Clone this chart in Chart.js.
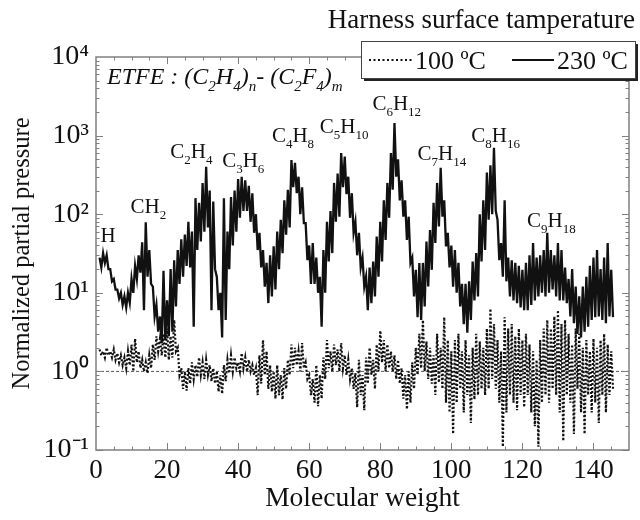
<!DOCTYPE html>
<html>
<head>
<meta charset="utf-8">
<script src="https://cdn.jsdelivr.net/npm/chart.js@4.4.1/dist/chart.umd.min.js"></script>
<style>
  html, body { margin: 0; padding: 0; background: #fff; }
  #wrap { width: 640px; height: 520px; }
</style>
</head>
<body>
<div id="wrap"><canvas id="spectrum" width="640" height="520"></canvas></div>
<script>
// integer masses start at 1; each mass has a band top and a band bottom
const FIRST_MASS = 1;

const peak230 = [
  28, 32, 30, 20, 15, 11, 10, 9, 10, 15,
  22, 30, 44, 79, 35, 12, 7, 5, 19, 8,
  20, 26, 35, 48, 55, 80, 60, 160, 140, 250,
  400, 200, 145, 16, 10, 160, 60, 165, 200, 280,
  300, 270, 230, 185, 100, 58, 35, 24, 30, 39,
  60, 85, 150, 205, 490, 450, 300, 220, 77, 40,
  43, 28, 16, 35, 80, 110, 250, 330, 600, 540,
  300, 185, 80, 58, 28, 16, 21, 25, 52, 80,
  150, 250, 600, 1450, 500, 270, 150, 93, 28, 19.6,
  24, 24, 45, 63, 140, 250, 390, 150, 58, 40,
  35, 24, 13, 13, 14, 25, 32, 100, 150, 340,
  420, 700, 85, 43, 150, 28, 26, 24, 22, 19.6,
  24, 30, 43, 28, 30, 35, 58, 35, 30, 43,
  35, 21, 15, 20, 12, 9, 12, 16, 22, 28,
  35, 20, 28, 43, 19.6
];
const valley230 = [
  21, 24, 20, 14, 11, 8.5, 7, 6.5, 7.5, 10,
  15, 18, 6, 16, 13, 5, 3.2, 2.3, 2.5, 2.8,
  3.2, 6.7, 13, 16, 22, 21, 3.7, 35, 45, 60,
  68, 6, 20, 6, 2.7, 4.5, 20, 40, 60, 90,
  110, 110, 80, 58, 35, 21, 12, 7.4, 9, 11,
  20, 32, 55, 68, 220, 185, 100, 77, 26, 13,
  13, 10, 3.7, 10, 25, 32, 80, 93, 220, 180,
  90, 58, 30, 21, 12, 6, 7.4, 9, 16, 25,
  47, 90, 205, 300, 150, 93, 47, 24, 9, 4.9,
  4.5, 6.7, 12, 19.6, 43, 70, 93, 39, 21, 12,
  10, 6.7, 4, 3.1, 4.5, 8, 9, 25, 35, 85,
  100, 110, 26, 16, 14, 9, 8, 7.4, 6.5, 6,
  6, 7, 8, 9, 10, 9, 10, 11, 9, 8,
  8, 7.4, 5, 4.1, 3, 2.7, 3.2, 3.7, 4.5, 4.9,
  5, 4.5, 4.1, 5, 4.9
];
const peak100 = [
  1.9, 1.8, 2.0, 1.8, 1.9, 1.7, 1.6, 1.5, 1.8, 2.2,
  2.6, 1.8, 1.4, 1.3, 1.6, 2.2, 2.8, 2.6, 3.0, 3.5,
  2.8, 4.5, 2.0, 1.1, 1.0, 1.1, 1.3, 1.2, 1.5, 1.3,
  1.4, 1.2, 1.1, 1.0, 0.9, 1.2, 1.4, 1.6, 1.5, 1.3,
  1.7, 1.5, 1.4, 1.2, 1.1, 1.6, 2.5, 1.8, 1.2, 1.0,
  1.2, 0.9, 1.1, 1.4, 2.2, 2.0, 1.8, 2.3, 1.3, 0.9,
  0.8, 1.2, 0.9, 1.5, 2.5, 1.8, 2.2, 1.9, 2.3, 1.6,
  1.4, 1.1, 0.95, 1.4, 0.9, 1.5, 2.0, 1.4, 2.2, 3.3,
  2.5, 2.2, 1.8, 1.6, 1.4, 1.1, 0.9, 1.0, 1.3, 2.0,
  3.0, 4.5, 2.4, 2.0, 1.6, 3.0, 2.0, 4.9, 2.5, 1.8,
  2.5, 3.0, 1.8, 2.5, 1.6, 2.0, 3.0, 2.4, 2.0, 3.5,
  6.3, 4.0, 2.5, 1.8, 4.9, 3.5, 4.0, 2.8, 3.5, 2.5,
  3.0, 2.2, 1.8, 1.4, 2.5, 3.5, 4.5, 3.5, 5.0, 6.0,
  4.0, 4.5, 3.0, 2.2, 3.5, 3.0, 2.0, 2.5, 1.8, 2.6,
  2.0, 2.5, 3.0, 2.2, 1.8
];
const valley100 = [
  1.6, 1.5, 1.6, 1.5, 1.4, 1.3, 1.2, 1.1, 1.2, 1.0,
  1.3, 1.1, 1.0, 0.95, 1.1, 1.4, 1.8, 1.6, 1.5, 1.4,
  1.5, 1.8, 0.9, 0.6, 0.57, 0.7, 0.8, 0.85, 0.9, 0.8,
  0.9, 0.75, 0.7, 0.55, 0.52, 0.75, 0.95, 1.0, 1.1, 1.0,
  1.1, 1.0, 1.0, 0.9, 0.5, 0.7, 0.9, 0.6, 0.55, 0.45,
  0.5, 0.44, 0.6, 0.9, 1.1, 1.2, 1.0, 1.1, 0.8, 0.5,
  0.4, 0.36, 0.45, 0.8, 1.1, 1.0, 1.2, 1.0, 1.1, 0.9,
  0.8, 0.6, 0.35, 0.5, 0.32, 0.7, 0.9, 0.6, 1.0, 1.3,
  1.0, 1.1, 1.0, 0.8, 0.7, 0.45, 0.33, 0.4, 0.6, 0.9,
  1.1, 1.0, 0.8, 0.7, 0.5, 0.72, 0.6, 0.4, 0.3, 0.16,
  0.4, 0.6, 0.3, 0.5, 0.22, 0.44, 0.5, 0.6, 0.5, 0.6,
  0.8, 0.6, 0.4, 0.11, 0.3, 0.5, 0.4, 0.32, 0.5, 0.35,
  0.5, 0.3, 0.2, 0.11, 0.4, 0.5, 0.4, 0.6, 0.5, 0.3,
  0.13, 0.5, 0.4, 0.16, 0.6, 0.3, 0.16, 0.5, 0.3, 0.4,
  0.22, 0.5, 0.3, 0.5, 0.6
];
const referenceLevel = [1, 1];
const referenceMass = [0, 150];
const xTickValues = [0, 20, 40, 60, 80, 100, 120, 140];
const yTickValues = [0.1, 1, 10, 100, 1000, 10000];

const seriesNames = ['100 \u00baC', '230 \u00baC'];
const legendTitle = 'Harness surface tamperature';
const compositionNote = 'ETFE : (C_{2}H_{4})_{n}- (C_{2}F_{4})_{m}';
// fragment labels: text, mass of left edge, level of baseline
const fragmentLabels = [
  ['H', 1.3, 44],
  ['CH_{2}', 9.7, 104],
  ['C_{2}H_{4}', 20.9, 519],
  ['C_{3}H_{6}', 35.5, 398],
  ['C_{4}H_{8}', 49.5, 829],
  ['C_{5}H_{10}', 63, 1079],
  ['C_{6}H_{12}', 77.8, 2118],
  ['C_{7}H_{14}', 90.5, 490],
  ['C_{8}H_{16}', 105.6, 829],
  ['C_{9}H_{18}', 121.3, 68.7]
];

const SERIF = '"Liberation Serif", "Times New Roman", serif';
const SUP = { '-': '\u207B', '0': '\u2070', '1': '\u00B9', '2': '\u00B2', '3': '\u00B3', '4': '\u2074' };

function zigzag(peaks, valleys) {
  const pts = [];
  peaks.forEach((p, i) => {
    const m = FIRST_MASS + i;
    pts.push({ x: m, y: p });
    pts.push({ x: m + 0.5, y: valleys[i] });
  });
  return pts;
}

function drawRich(ctx, text, x, y, size, italic) {
  const re = /_\{([^}]*)\}|([^_]+)/g;
  let cx = x, mt;
  while ((mt = re.exec(text))) {
    const sub = mt[1] !== undefined;
    const t = sub ? mt[1] : mt[2];
    const fs = sub ? Math.round(size * 0.64) : size;
    ctx.font = (italic ? 'italic ' : '') + fs + 'px ' + SERIF;
    ctx.fillText(t, cx, sub ? y + size * 0.3 : y);
    cx += ctx.measureText(t).width;
  }
}

const decorations = {
  id: 'decorations',
  afterDatasetsDraw(chart) {
    const { ctx, chartArea: a, scales: { x, y } } = chart;
    ctx.save();
    // frame with inward ticks
    ctx.strokeStyle = '#808080';
    ctx.lineWidth = 1.5;
    ctx.strokeRect(a.left, a.top, a.right - a.left, a.bottom - a.top);
    ctx.lineWidth = 1;
    ctx.beginPath();
    for (let v = 5; v < 150; v += 5) {
      const px = Math.round(x.getPixelForValue(v)) + 0.5;
      const len = v % 20 === 0 ? 7 : 3.5;
      ctx.moveTo(px, a.bottom); ctx.lineTo(px, a.bottom - len);
      ctx.moveTo(px, a.top); ctx.lineTo(px, a.top + len);
    }
    for (let d = -1; d < 4; d++) {
      for (let k = 1; k <= 9; k++) {
        const py = Math.round(y.getPixelForValue(k * Math.pow(10, d))) + 0.5;
        const len = k === 1 ? 7 : 3.5;
        ctx.moveTo(a.left, py); ctx.lineTo(a.left + len, py);
        ctx.moveTo(a.right, py); ctx.lineTo(a.right - len, py);
      }
    }
    ctx.stroke();

    // annotations
    ctx.fillStyle = '#111';
    ctx.textBaseline = 'alphabetic';
    ctx.textAlign = 'left';
    drawRich(ctx, compositionNote, a.left + 11, a.top + 27, 24, true);
    fragmentLabels.forEach(([t, m, v]) => {
      drawRich(ctx, t, x.getPixelForValue(m), y.getPixelForValue(v), 21, false);
    });
    ctx.restore();
  },
  afterDraw(chart) {
    const { ctx, width } = chart;
    ctx.save();
    // legend title
    ctx.fillStyle = '#111';
    ctx.font = '27px ' + SERIF;
    ctx.textAlign = 'right';
    ctx.fillText(legendTitle, width - 5, 28);
    // legend box with shadow
    const bx = 361, by = 41, bw = 274, bh = 37;
    ctx.fillStyle = '#222';
    ctx.fillRect(bx + 3, by + 3, bw, bh);
    ctx.fillStyle = '#fff';
    ctx.fillRect(bx, by, bw, bh);
    ctx.strokeStyle = '#444';
    ctx.lineWidth = 1;
    ctx.strokeRect(bx + 0.5, by + 0.5, bw, bh);
    // samples
    ctx.strokeStyle = '#111';
    ctx.lineWidth = 2;
    ctx.setLineDash([2, 2.5]);
    ctx.beginPath(); ctx.moveTo(369, 60); ctx.lineTo(413, 60); ctx.stroke();
    ctx.setLineDash([]);
    ctx.beginPath(); ctx.moveTo(512, 60); ctx.lineTo(554, 60); ctx.stroke();
    ctx.fillStyle = '#111';
    ctx.textAlign = 'left';
    ctx.font = '26px ' + SERIF;
    ctx.fillText(seriesNames[0], 415, 69);
    ctx.fillText(seriesNames[1], 557, 69);
    ctx.restore();
  }
};

new Chart(document.getElementById('spectrum'), {
  type: 'line',
  data: {
    datasets: [
      {
        label: seriesNames[0],
        data: zigzag(peak100, valley100),
        borderColor: '#111',
        borderWidth: 2.2,
        borderDash: [2, 2],
        pointRadius: 0,
        tension: 0
      },
      {
        label: seriesNames[1],
        data: zigzag(peak230, valley230),
        borderColor: '#111',
        borderWidth: 2.3,
        pointRadius: 0,
        tension: 0
      },
      {
        label: 'reference',
        data: referenceMass.map((m, i) => ({ x: m, y: referenceLevel[i] })),
        borderColor: '#555',
        borderWidth: 1,
        borderDash: [3, 2],
        pointRadius: 0
      }
    ]
  },
  options: {
    responsive: false,
    animation: false,
    layout: { padding: { top: 57, right: 11, left: 0, bottom: 0 } },
    plugins: { legend: { display: false }, tooltip: { enabled: false } },
    scales: {
      x: {
        type: 'linear',
        min: 0,
        max: 150,
        afterFit: s => { s.height = 70; },
        afterBuildTicks: s => { s.ticks = xTickValues.map(v => ({ value: v })); },
        grid: { display: false, drawTicks: false },
        border: { display: false },
        ticks: {
          autoSkip: false,
          maxRotation: 0,
          padding: 5,
          color: '#111',
          font: { family: SERIF, size: 27 },
          callback: v => String(v)
        },
        title: {
          display: true,
          text: 'Molecular weight',
          color: '#111',
          font: { family: SERIF, size: 27.5 },
          padding: { top: 0, bottom: 5 }
        }
      },
      y: {
        type: 'logarithmic',
        min: 0.1,
        max: 10000,
        afterFit: s => { s.width = 96; },
        afterBuildTicks: s => { s.ticks = yTickValues.map(v => ({ value: v })); },
        grid: { display: false, drawTicks: false },
        border: { display: false },
        ticks: {
          autoSkip: false,
          padding: 7,
          color: '#111',
          font: { family: SERIF, size: 28 },
          callback: v => {
            const r = Math.round(Math.log10(v));
            return '10' + String(r).split('').map(c => SUP[c]).join('');
          }
        },
        title: {
          display: true,
          text: 'Normalized partial pressure',
          color: '#111',
          font: { family: SERIF, size: 24.5 },
          padding: { top: 8, bottom: 0 }
        }
      }
    }
  },
  plugins: [decorations]
});
</script>
</body>
</html>
